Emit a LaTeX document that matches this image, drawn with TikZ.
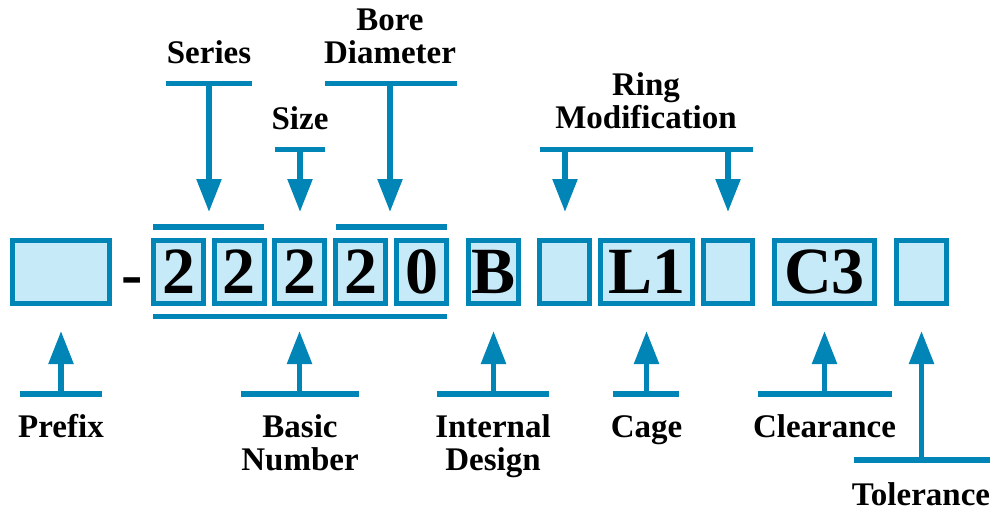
\documentclass[tikz,border=0pt]{standalone}
\usepackage{fontspec}
\setmainfont{Liberation Serif}
\usetikzlibrary{arrows.meta}
\definecolor{codeblue}{RGB}{0,133,182}
\definecolor{codefill}{RGB}{199,234,249}

\begin{document}
\begin{tikzpicture}[x=0.5pt,y=-0.5pt,
    codebox/.style={draw=codeblue,fill=codefill,line width=2.5pt,inner sep=0pt,
      minimum height=31.5pt,font=\fontsize{33}{33}\selectfont\bfseries},
    partname/.style={anchor=base,align=center,inner sep=0pt,
      font=\fontsize{16.5}{16.5}\selectfont\bfseries},
    bar/.style={draw=codeblue,line width=2.75pt},
    pointer/.style={bar,-{Triangle[width=12pt,length=16.5pt]}}]
    \useasboundingbox (0,0) rectangle (994,509);

    % Code boxes
    \node[codebox,minimum width=48.5pt] (prefix) at (61,272) {};
    \node[anchor=base,inner sep=0pt,font=\fontsize{32}{32}\selectfont\bfseries] (dash) at (132,295) {-};
    \foreach \d/\x [count=\i] in {2/178.5,2/239,2/299.5,2/360.5,0/421.5}
        \node[codebox,minimum width=25pt] (d\i) at (\x,272) {\d};
    \node[codebox,minimum width=25pt] (design) at (493.5,272) {B};
    \node[codebox,minimum width=25pt] (ringA) at (564.5,272) {};
    \node[codebox,minimum width=46pt] (cagebox) at (646.5,272) {L1};
    \node[codebox,minimum width=24.5pt] (ringB) at (728,272) {};
    \node[codebox,minimum width=50pt] (clearbox) at (824.5,272) {C3};
    \node[codebox,minimum width=25pt] (tolbox) at (921.5,272) {};

    % Brackets over and under the basic number
    \draw[bar,line width=3pt] (153,227) -- (264,227);
    \draw[bar,line width=3pt] (336,227) -- (447,227);
    \draw[bar,line width=2.5pt] (153,316.5) -- (447,316.5);

    % Upper names (base = last line)
    \node[partname] (series) at (209,63) {Series};
    \node[partname] (size) at (300,129) {Size};
    \node[partname] (bore) at (390,63) {Bore\\Diameter};
    \node[partname] (ring) at (646,128) {Ring\\Modification};

    % Upper bars and pointers
    \coordinate (seriesbar) at (209,83.5);
    \coordinate (sizebar) at (300,149.5);
    \coordinate (borebar) at (390,83.5);
    \coordinate (ringbarA) at (565,149.5);
    \coordinate (ringbarB) at (728,149.5);
    \coordinate (seriestip) at (209,212);
    \coordinate (sizetip) at (300,212);
    \coordinate (boretip) at (390,212);
    \coordinate (ringtipA) at (565,212);
    \coordinate (ringtipB) at (728,212);
    \draw[bar] (166,83.5) -- (252,83.5);
    \draw[bar] (275,149.5) -- (325,149.5);
    \draw[bar] (325,83.5) -- (457,83.5);
    \draw[bar] (540,149.5) -- (753,149.5);
    \draw[pointer] (seriesbar) -- (seriestip);
    \draw[pointer] (sizebar) -- (sizetip);
    \draw[pointer] (borebar) -- (boretip);
    \draw[pointer] (ringbarA) -- (ringtipA);
    \draw[pointer] (ringbarB) -- (ringtipB);

    % Lower names
    \node[partname] (prefixname) at (61,437) {Prefix};
    \node[partname] (basic) at (300,470) {Basic\\Number};
    \node[partname] (internal) at (493,470) {Internal\\Design};
    \node[partname] (cage) at (646.5,437) {Cage};
    \node[partname] (clearance) at (824.5,437) {Clearance};
    \node[partname] (tolerance) at (921,505) {Tolerance};

    % Lower bars and pointers
    \foreach \n/\x/\a/\b in {prefix/61/20/102,basic/299.5/241/359,design/493.5/437/549,
                             cage/646.5/613/679,clear/824.5/758/892}{
        \coordinate (\n foot) at (\x,394);
        \coordinate (\n tip) at (\x,331);
        \draw[bar] (\a,394) -- (\b,394);
        \draw[pointer] (\n foot) -- (\n tip);
    }
    \coordinate (tolfoot) at (921.5,460);
    \coordinate (toltip) at (921.5,331);
    \draw[bar] (854,460) -- (990,460);
    \draw[pointer] (tolfoot) -- (toltip);
\end{tikzpicture}
\end{document}
